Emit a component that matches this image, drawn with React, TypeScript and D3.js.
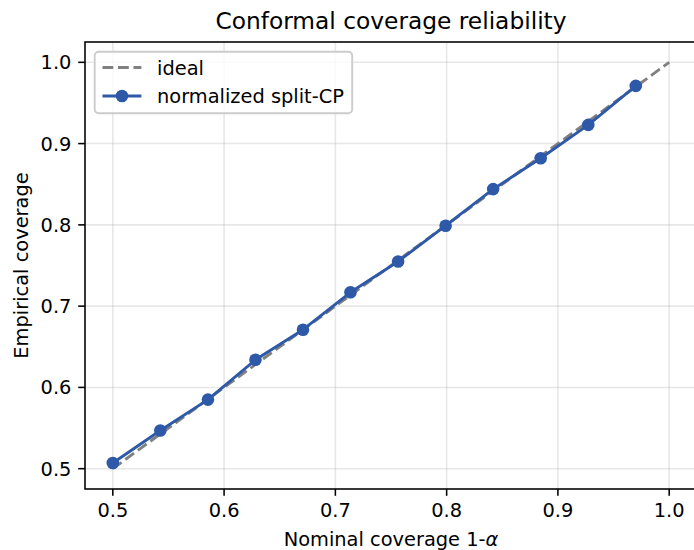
import React from "react";
import * as d3 from "d3";

const nominal = [0.5, 0.5427, 0.5855, 0.6282, 0.6709, 0.7136, 0.7564, 0.7991, 0.8418, 0.8845, 0.9273, 0.97];
const empirical = [0.507, 0.547, 0.585, 0.634, 0.671, 0.717, 0.755, 0.799, 0.844, 0.882, 0.923, 0.971];
const idealX = [0.5, 1.0];
const xTicks = [0.5, 0.6, 0.7, 0.8, 0.9, 1.0];
const yTicks = [0.5, 0.6, 0.7, 0.8, 0.9, 1.0];
const seriesLabels = ["ideal", "normalized split-CP"];

const W = 694;
const H = 550;
const left = 85, right = 697, top = 42, bottom = 489;
const FONT = "DejaVu Sans, sans-serif";
const BLUE = "#2e59a8";

export default function App() {
  const x = d3.scaleLinear().domain([0.475, 1.025]).range([left, right]);
  const y = d3.scaleLinear().domain([0.475, 1.025]).range([bottom, top]);
  const pts = nominal.map((v, i) => [v, empirical[i]] as [number, number]);
  const line = d3.line<[number, number]>().x(d => x(d[0])).y(d => y(d[1]));
  const idealPts = idealX.map(v => [v, v] as [number, number]);

  const lx = 94.7, ly = 51.7, lw = 257.5, lh = 61.5;
  const R = 6.3;

  return (
    <svg width={W} height={H} style={{ position: "absolute", left: 0, top: 0, background: "#fff" }} fontFamily={FONT}>
      <rect x={0} y={0} width={W} height={H} fill="#fff" />
      {xTicks.map(t => (
        <line key={"gx" + t} x1={x(t)} x2={x(t)} y1={top} y2={bottom} stroke="#b0b0b0" strokeOpacity={0.3} strokeWidth={1.56} />
      ))}
      {yTicks.map(t => (
        <line key={"gy" + t} x1={left} x2={right} y1={y(t)} y2={y(t)} stroke="#b0b0b0" strokeOpacity={0.3} strokeWidth={1.56} />
      ))}
      <path d={line(idealPts) || ""} fill="none" stroke="#808080" strokeWidth={2.9} strokeDasharray="10.8,4.7" />
      <path d={line(pts) || ""} fill="none" stroke={BLUE} strokeWidth={2.9} strokeLinejoin="round" />
      {pts.map((p, i) => (
        <circle key={"m" + i} cx={x(p[0])} cy={y(p[1])} r={R} fill={BLUE} />
      ))}
      <rect x={left} y={top} width={right - left} height={bottom - top} fill="none" stroke="#000" strokeWidth={1.56} />
      {xTicks.map(t => (
        <g key={"xt" + t}>
          <line x1={x(t)} x2={x(t)} y1={bottom} y2={bottom + 6.8} stroke="#000" strokeWidth={1.56} />
          <text x={x(t)} y={517} textAnchor="middle" fontSize={19.4} fill="#000">{d3.format(".1f")(t)}</text>
        </g>
      ))}
      {yTicks.map(t => (
        <g key={"yt" + t}>
          <line x1={left - 6.8} x2={left} y1={y(t)} y2={y(t)} stroke="#000" strokeWidth={1.56} />
          <text x={71.4} y={y(t) + 7} textAnchor="end" fontSize={19.4} fill="#000">{d3.format(".1f")(t)}</text>
        </g>
      ))}
      <text x={(left + right) / 2} y={546} textAnchor="middle" fontSize={19.4} fill="#000">
        Nominal coverage 1-<tspan fontStyle="italic">α</tspan>
      </text>
      <text transform={`translate(28, ${(top + bottom) / 2}) rotate(-90)`} textAnchor="middle" fontSize={19.4} fill="#000">Empirical coverage</text>
      <text x={(left + right) / 2} y={29} textAnchor="middle" fontSize={23.3} fill="#000">Conformal coverage reliability</text>
      <rect x={lx} y={ly} width={lw} height={lh} rx={4} fill="#fff" fillOpacity={0.8} stroke="#cccccc" strokeWidth={1.9} />
      <line x1={102.5} x2={141.4} y1={67.5} y2={67.5} stroke="#808080" strokeWidth={2.9} strokeDasharray="10.8,4.7" />
      <text x={157} y={74.5} fontSize={19.4} fill="#000">{seriesLabels[0]}</text>
      <line x1={102.5} x2={141.4} y1={96} y2={96} stroke={BLUE} strokeWidth={2.9} />
      <circle cx={122} cy={96} r={R} fill={BLUE} />
      <text x={157} y={103} fontSize={19.4} fill="#000">{seriesLabels[1]}</text>
    </svg>
  );
}
